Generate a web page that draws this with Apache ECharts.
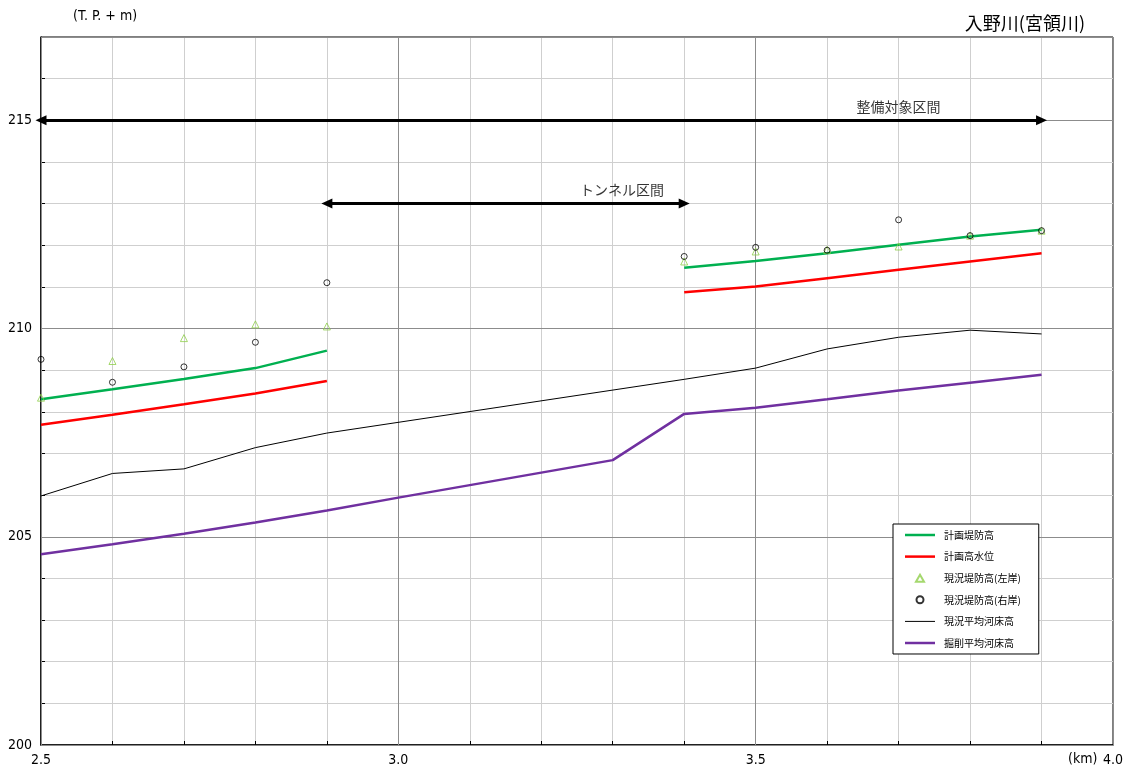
<!DOCTYPE html>
<html>
<head>
<meta charset="utf-8">
<script src="https://cdn.jsdelivr.net/npm/echarts@6/dist/echarts.min.js"></script>
<style>
  html, body { margin: 0; padding: 0; background: #fff; }
  #main { width: 1130px; height: 772px; }
</style>
</head>
<body>
<div id="main"></div>
<script>
// 距離標 (km)
const dist = [2.5, 2.6, 2.7, 2.8, 2.9, 3.4, 3.5, 3.6, 3.7, 3.8, 3.9];
const distBed = [2.5, 2.6, 2.7, 2.8, 2.9, 3.4, 3.5, 3.6, 3.7, 3.8, 3.9];
const distCut = [2.5, 2.6, 2.7, 2.8, 2.9, 3.0, 3.1, 3.2, 3.3, 3.4, 3.5, 3.6, 3.7, 3.8, 3.9];

// 計画堤防高 / 計画高水位
const planLevee = [208.30, 208.54, 208.79, 209.05, 209.47, 211.46, 211.62, 211.81, 212.01, 212.21, 212.37];
const planFlood = [207.69, 207.93, 208.18, 208.44, 208.74, 210.87, 211.01, 211.21, 211.41, 211.61, 211.81];
// 現況堤防高
const leveeLeft = [208.34, 209.22, 209.77, 210.10, 210.05, 211.61, 211.85, 211.89, 211.97, 212.23, 212.35];
const leveeRight = [209.26, 208.71, 209.08, 209.67, 211.10, 211.73, 211.95, 211.88, 212.61, 212.23, 212.35];
// 現況平均河床高
const bedNow = [205.98, 206.52, 206.63, 207.14, 207.49, 208.78, 209.05, 209.51, 209.79, 209.96, 209.87];
// 掘削平均河床高
const bedCut = [204.58, 204.82, 205.07, 205.34, 205.63, 205.94, 206.24, 206.54, 206.84, 207.95, 208.10, 208.30, 208.51, 208.70, 208.89];

// 区間 arrows
const reachFull = { name: '整備対象区間', from: 2.5, to: 3.9, level: 215 };
const reachTunnel = { name: 'トンネル区間', from: 2.9, to: 3.4, level: 213 };

const sectionA = 5; // first 5 points before the tunnel

const seriesNames = ['計画堤防高', '計画高水位', '現況堤防高(左岸)', '現況堤防高(右岸)', '現況平均河床高', '掘削平均河床高'];

const numFont = '"Liberation Sans Narrow", "DejaVu Sans Condensed", sans-serif';
const jpFont = '"Noto Sans CJK JP", sans-serif';

function pairs(xs, ys) {
  return xs.map((x, i) => [x, ys[i]]);
}

// split plan lines at the tunnel so they are not joined
function splitAtTunnel(ys) {
  const pts = pairs(dist, ys);
  return pts.slice(0, sectionA).concat([[3.15, null]], pts.slice(sectionA));
}

// legend icons (paths keep their aspect)
const thickLine = 'path://M0,0H30V2.5H0Z';
const thinLine = 'path://M0,0H30V1H0Z';
const triIcon = 'path://M5,0L10,8.7L0,8.7Z';
const circIcon = 'path://M0,5A5,5,0,1,1,10,5A5,5,0,1,1,0,5Z';

const myChart = echarts.init(document.getElementById('main'));

const option = {
  animation: false,
  title: {
    text: '入野川(宮領川)',
    right: 40,
    top: 9,
    textStyle: { fontFamily: jpFont, fontSize: 18, fontWeight: 'normal', color: '#000' }
  },
  graphic: [
    { type: 'text', left: 73, top: 9, style: { text: '(T. P. + m)', font: '14px ' + numFont, fill: '#000' } },
    { type: 'text', left: 1068, top: 752, style: { text: '(km)', font: '14px ' + numFont, fill: '#000' } }
  ],
  grid: {
    left: 41, right: 17, top: 37, bottom: 27,
    show: true, borderColor: '#000', borderWidth: 1
  },
  legend: {
    orient: 'vertical',
    left: 893, top: 524,
    padding: [6, 18, 6, 12],
    itemWidth: 30, itemHeight: 7, itemGap: 11.6,
    backgroundColor: '#fff', borderColor: '#000', borderWidth: 1,
    textStyle: { fontFamily: jpFont, fontSize: 10, color: '#000', padding: [0, 0, 0, 4] },
    data: [
      { name: seriesNames[0], icon: thickLine },
      { name: seriesNames[1], icon: thickLine },
      { name: seriesNames[2], icon: triIcon },
      { name: seriesNames[3], icon: circIcon },
      { name: seriesNames[4], icon: thinLine },
      { name: seriesNames[5], icon: thickLine }
    ]
  },
  xAxis: [
    {
      type: 'value', min: 2.5, max: 4.0, interval: 0.1,
      axisLine: { lineStyle: { color: '#000', width: 1.5 } },
      axisTick: { inside: true, length: 4, lineStyle: { color: '#000' } },
      axisLabel: {
        fontFamily: numFont, fontSize: 14, color: '#000', margin: 8,
        formatter: v => (Math.round(v * 10) % 5 === 0 ? v.toFixed(1) : '')
      },
      splitLine: { lineStyle: { color: '#cfcfcf', width: 1 } }
    },
    {
      type: 'value', min: 2.5, max: 4.0, interval: 0.5, position: 'top', z: 1,
      axisLine: { show: false }, axisTick: { show: false }, axisLabel: { show: false },
      splitLine: { lineStyle: { color: '#8c8c8c', width: 1 } }
    }
  ],
  yAxis: [
    {
      type: 'value', min: 200, max: 217, interval: 1,
      axisLine: { show: true, lineStyle: { color: '#000', width: 1.5 } },
      axisTick: { inside: true, length: 4, lineStyle: { color: '#000' } },
      axisLabel: {
        fontFamily: numFont, fontSize: 14, color: '#000', margin: 9,
        formatter: v => (Math.round(v) % 5 === 0 && v < 217 ? String(v) : '')
      },
      splitLine: { lineStyle: { color: '#cfcfcf', width: 1 } }
    },
    {
      type: 'value', min: 200, max: 217, interval: 5, position: 'right', z: 1,
      axisLine: { show: false }, axisTick: { show: false }, axisLabel: { show: false },
      splitLine: { lineStyle: { color: '#8c8c8c', width: 1 } }
    }
  ],
  series: [
    {
      name: seriesNames[4], type: 'line', symbol: 'none', z: 3,
      data: pairs(distBed, bedNow),
      lineStyle: { color: '#000', width: 1 }, itemStyle: { color: '#000' }
    },
    {
      name: seriesNames[5], type: 'line', symbol: 'none', z: 3,
      data: pairs(distCut, bedCut),
      lineStyle: { color: '#7030a0', width: 2.5 }, itemStyle: { color: '#7030a0' }
    },
    {
      name: seriesNames[1], type: 'line', symbol: 'none', z: 3,
      data: splitAtTunnel(planFlood),
      lineStyle: { color: '#ff0000', width: 2.5 }, itemStyle: { color: '#ff0000' }
    },
    {
      name: seriesNames[0], type: 'line', symbol: 'none', z: 3,
      data: splitAtTunnel(planLevee),
      lineStyle: { color: '#00b050', width: 2.5 }, itemStyle: { color: '#00b050' }
    },
    {
      name: seriesNames[2], type: 'scatter', symbol: 'triangle', symbolSize: 7, z: 4,
      data: pairs(dist, leveeLeft),
      itemStyle: { color: 'rgba(0,0,0,0)', borderColor: '#8fce4a', borderWidth: 1 }
    },
    {
      name: seriesNames[3], type: 'scatter', symbol: 'circle', symbolSize: 6, z: 5,
      data: pairs(dist, leveeRight),
      itemStyle: { color: 'rgba(0,0,0,0)', borderColor: '#000', borderWidth: 1 }
    },
    {
      name: 'reach', type: 'line', data: [], silent: true, z: 6,
      markLine: {
        silent: true,
        symbol: ['triangle', 'triangle'],
        symbolSize: [10, 11],
        lineStyle: { color: '#000', width: 3, type: 'solid' },
        label: { show: false },
        data: [reachFull, reachTunnel].map(r => [
          { coord: [r.from, r.level] },
          { coord: [r.to, r.level] }
        ])
      }
    },
    {
      name: 'reachLabel', type: 'scatter', symbolSize: 0, silent: true, z: 6,
      data: [
        { value: [3.70, reachFull.level], name: reachFull.name },
        { value: [3.313, reachTunnel.level], name: reachTunnel.name }
      ],
      label: {
        show: true, position: 'top', distance: 7,
        formatter: p => p.name,
        fontFamily: jpFont, fontSize: 14, color: '#000'
      }
    }
  ]
};

myChart.setOption(option);
</script>
</body>
</html>
